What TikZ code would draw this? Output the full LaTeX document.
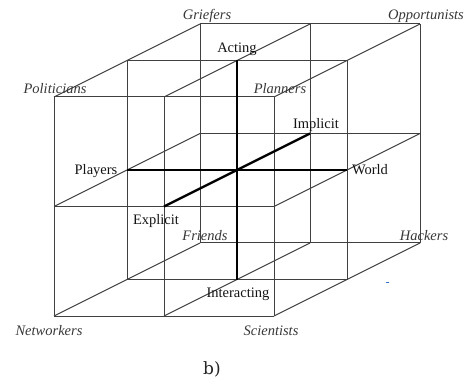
\documentclass[tikz,border=0pt]{standalone}
\usepackage{fontspec}
\setmainfont{Liberation Serif}
\newfontfamily\captfont{DejaVu Serif}
\begin{document}
\begin{tikzpicture}[x=1pt,y=-1pt,
  grid/.style={draw=black!75,line width=1pt},
  axis/.style={draw=black,line width=2.3pt},
  role/.style={font=\fontsize{14.5}{16}\selectfont\itshape,text=black!78,inner sep=0pt},
  dim/.style={font=\fontsize{14.5}{16}\selectfont,text=black!92,inner sep=0pt}]
\useasboundingbox (0,0) rectangle (468,379);
\fill[white] (0,0) rectangle (468,379);
% lattice points p-i-j-k
\foreach \i in {0,1,2}{
  \foreach \j in {0,1,2}{
    \foreach \k in {0,1,2}{
      \coordinate (p-\i-\j-\k) at ({54+110*\i+73*\k},{97+109.5*\j-36.5*\k});
    }}}
% grid lines
\foreach \a in {0,1,2}{
  \foreach \b in {0,1,2}{
    \draw[grid] (p-0-\a-\b) -- (p-2-\a-\b);
    \draw[grid] (p-\a-0-\b) -- (p-\a-2-\b);
    \draw[grid] (p-\a-\b-0) -- (p-\a-\b-2);
  }}
% central axes
\draw[axis] (p-0-1-1) -- (p-2-1-1);
\draw[axis] (p-1-0-1) -- (p-1-2-1);
\draw[axis] (p-1-1-0) -- (p-1-1-2);
% corner labels
\node[role] (griefers) at (207,16) {Griefers};
\node[role] (opport) at (426,16) {Opportunists};
\node[role] (polit) at (55,89) {Politicians};
\node[role] (planners) at (280,89) {Planners};
\node[role] (friends) at (205,236) {Friends};
\node[role] (hackers) at (424,236) {Hackers};
\node[role] (networkers) at (49,331) {Networkers};
\node[role] (scientists) at (271,331) {Scientists};
% axis labels
\node[dim] (acting) at (237,49) {Acting};
\node[dim] (implicit) at (316,125) {Implicit};
\node[dim] (players) at (96,171) {Players};
\node[dim] (world) at (370,170) {World};
\node[dim] (explicit) at (156,221) {Explicit};
\node[dim] (interacting) at (238,294) {Interacting};
% caption
\node[font=\captfont\fontsize{17}{19}\selectfont,text=black!85,inner sep=0pt] (caption) at (212,369) {b)};
% small blue mark
\coordinate (m1) at (386,282);
\coordinate (m2) at (389,282);
\draw[draw={rgb,255:red,48;green,112;blue,208},line width=1pt] (m1) -- (m2);
\end{tikzpicture}
\end{document}
